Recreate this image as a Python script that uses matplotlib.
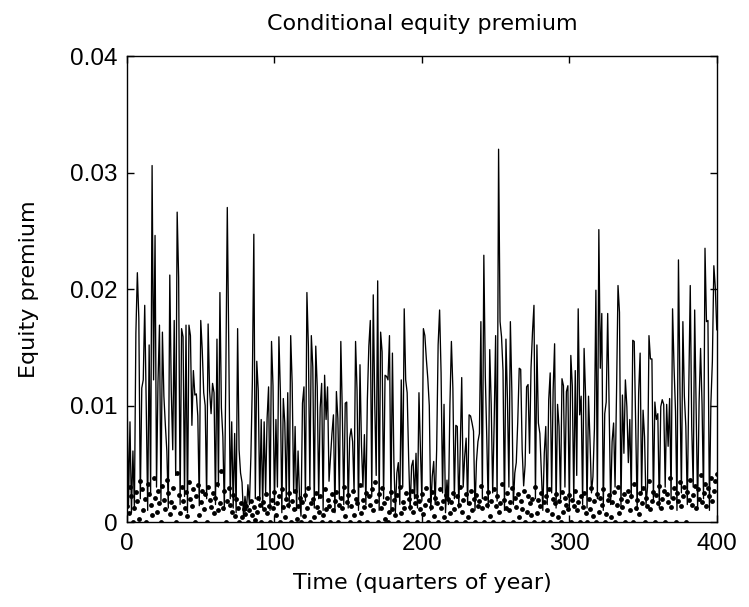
import matplotlib
matplotlib.use("Agg")
import matplotlib.pyplot as plt
import numpy as np

# conditional equity premium, one value per quarter (t = 0..400)
premium = [
    0.0112, 0.0015, 0.0086, 0.0008, 0.0061, 0.0012, 0.0162, 0.0214, 0.0175, 0.0020,
    0.0115, 0.0122, 0.0186, 0.0102, 0.0010, 0.0152, 0.0025, 0.0306, 0.0122, 0.0246,
    0.0030, 0.0120, 0.0169, 0.0018, 0.0163, 0.0108, 0.0083, 0.0061, 0.0012, 0.0212,
    0.0113, 0.0062, 0.0173, 0.0040, 0.0266, 0.0210, 0.0015, 0.0166, 0.0159, 0.0022,
    0.0169, 0.0008, 0.0169, 0.0160, 0.0083, 0.0130, 0.0109, 0.0110, 0.0091, 0.0014,
    0.0173, 0.0148, 0.0111, 0.0100, 0.0020, 0.0170, 0.0113, 0.0093, 0.0119, 0.0111,
    0.0015, 0.0157, 0.0030, 0.0197, 0.0098, 0.0073, 0.0010, 0.0125, 0.0270, 0.0151,
    0.0020, 0.0086, 0.0012, 0.0076, 0.0008, 0.0166, 0.0062, 0.0042, 0.0034, 0.0005,
    0.0022, 0.0010, 0.0032, 0.0015, 0.0056, 0.0120, 0.0247, 0.0020, 0.0138, 0.0113,
    0.0018, 0.0088, 0.0012, 0.0086, 0.0025, 0.0089, 0.0116, 0.0010, 0.0155, 0.0117,
    0.0015, 0.0088, 0.0030, 0.0159, 0.0112, 0.0008, 0.0106, 0.0085, 0.0020, 0.0111,
    0.0012, 0.0160, 0.0119, 0.0025, 0.0082, 0.0010, 0.0061, 0.0021, 0.0005, 0.0102,
    0.0116, 0.0018, 0.0197, 0.0151, 0.0030, 0.0160, 0.0133, 0.0012, 0.0151, 0.0116,
    0.0020, 0.0098, 0.0119, 0.0010, 0.0126, 0.0088, 0.0116, 0.0035, 0.0055, 0.0076,
    0.0092, 0.0008, 0.0112, 0.0089, 0.0020, 0.0155, 0.0095, 0.0015, 0.0102, 0.0103,
    0.0012, 0.0072, 0.0080, 0.0069, 0.0025, 0.0155, 0.0113, 0.0010, 0.0135, 0.0066,
    0.0030, 0.0075, 0.0015, 0.0105, 0.0151, 0.0173, 0.0022, 0.0195, 0.0103, 0.0040,
    0.0207, 0.0010, 0.0163, 0.0146, 0.0020, 0.0126, 0.0125, 0.0122, 0.0160, 0.0012,
    0.0145, 0.0051, 0.0008, 0.0042, 0.0051, 0.0015, 0.0122, 0.0030, 0.0183, 0.0122,
    0.0111, 0.0055, 0.0010, 0.0048, 0.0053, 0.0020, 0.0059, 0.0012, 0.0111, 0.0062,
    0.0018, 0.0166, 0.0160, 0.0140, 0.0123, 0.0100, 0.0010, 0.0039, 0.0052, 0.0015,
    0.0062, 0.0152, 0.0182, 0.0128, 0.0025, 0.0101, 0.0008, 0.0036, 0.0015, 0.0101,
    0.0155, 0.0115, 0.0020, 0.0083, 0.0082, 0.0012, 0.0063, 0.0124, 0.0030, 0.0056,
    0.0072, 0.0015, 0.0092, 0.0091, 0.0085, 0.0078, 0.0010, 0.0052, 0.0069, 0.0076,
    0.0172, 0.0020, 0.0229, 0.0125, 0.0072, 0.0012, 0.0148, 0.0101, 0.0025, 0.0085,
    0.0160, 0.0018, 0.0320, 0.0172, 0.0159, 0.0130, 0.0010, 0.0157, 0.0106, 0.0030,
    0.0172, 0.0112, 0.0015, 0.0042, 0.0051, 0.0086, 0.0132, 0.0131, 0.0062, 0.0031,
    0.0049, 0.0116, 0.0118, 0.0059, 0.0132, 0.0163, 0.0186, 0.0020, 0.0152, 0.0085,
    0.0076, 0.0043, 0.0010, 0.0059, 0.0082, 0.0015, 0.0105, 0.0128, 0.0025, 0.0113,
    0.0153, 0.0012, 0.0101, 0.0082, 0.0020, 0.0123, 0.0117, 0.0030, 0.0112, 0.0117,
    0.0010, 0.0143, 0.0117, 0.0018, 0.0130, 0.0040, 0.0183, 0.0092, 0.0108, 0.0015,
    0.0149, 0.0109, 0.0012, 0.0108, 0.0070, 0.0025, 0.0039, 0.0080, 0.0199, 0.0020,
    0.0251, 0.0132, 0.0179, 0.0010, 0.0093, 0.0103, 0.0179, 0.0096, 0.0015, 0.0069,
    0.0085, 0.0030, 0.0111, 0.0203, 0.0180, 0.0012, 0.0109, 0.0059, 0.0122, 0.0099,
    0.0051, 0.0088, 0.0020, 0.0156, 0.0155, 0.0085, 0.0010, 0.0111, 0.0145, 0.0025,
    0.0096, 0.0073, 0.0015, 0.0030, 0.0160, 0.0140, 0.0140, 0.0018, 0.0103, 0.0088,
    0.0093, 0.0012, 0.0099, 0.0105, 0.0101, 0.0030, 0.0101, 0.0065, 0.0106, 0.0020,
    0.0183, 0.0133, 0.0095, 0.0010, 0.0225, 0.0116, 0.0025, 0.0172, 0.0108, 0.0082,
    0.0015, 0.0115, 0.0203, 0.0082, 0.0030, 0.0182, 0.0099, 0.0012, 0.0103, 0.0149,
    0.0101, 0.0020, 0.0235, 0.0172, 0.0173, 0.0010, 0.0102, 0.0138, 0.0220, 0.0201,
    0.0165,
]

# dotted series near the bottom, in units of 1e-4
dots_e4 = [
    14, 8, 30, 22, 0, 12, 26, 18, 3, 35, 28, 10, 20, 0, 33, 24, 15, 6, 38, 21,
    9, 27, 16, 0, 31, 19, 11, 36, 25, 7, 17, 29, 13, 0, 42, 23, 8, 30, 18, 12,
    26, 5, 34, 20, 14, 28, 0, 22, 32, 6, 17, 27, 11, 24, 0, 30, 19, 13, 25, 8,
    21, 33, 10, 16, 44, 12, 27, 0, 18, 29, 15, 9, 23, 5, 20, 12, 0, 16, 4, 11,
    7, 14, 0, 10, 18, 6, 13, 2, 9, 21, 15, 0, 17, 11, 24, 8, 14, 0, 19, 12,
    26, 6, 16, 22, 0, 28, 13, 4, 20, 15, 25, 0, 18, 11, 27, 3, 14, 21, 0, 17,
    5, 23, 12, 29, 0, 16, 20, 4, 25, 13, 9, 22, 0, 6, 28, 11, 19, 14, 0, 24,
    10, 18, 26, 0, 15, 21, 12, 30, 5, 17, 23, 0, 14, 27, 6, 20, 16, 0, 32, 8,
    19, 13, 25, 0, 22, 15, 28, 10, 34, 18, 0, 24, 12, 29, 16, 3, 21, 0, 9, 26,
    11, 19, 6, 23, 0, 30, 8, 17, 12, 25, 0, 20, 13, 27, 9, 16, 22, 0, 18, 11,
    24, 7, 15, 29, 0, 19, 13, 26, 5, 21, 16, 0, 28, 12, 18, 4, 23, 0, 20, 8,
    17, 25, 11, 0, 22, 15, 30, 9, 19, 0, 24, 4, 16, 27, 10, 20, 0, 23, 14, 18,
    31, 12, 0, 21, 15, 26, 5, 18, 0, 28, 14, 22, 9, 16, 33, 0, 19, 12, 25, 10,
    17, 29, 0, 21, 13, 24, 4, 18, 11, 27, 0, 9, 22, 16, 6, 20, 0, 30, 8, 19,
    14, 25, 0, 17, 22, 10, 28, 0, 7, 20, 16, 24, 4, 18, 0, 26, 9, 21, 15, 11,
    23, 0, 19, 14, 27, 10, 17, 0, 22, 13, 25, 8, 0, 20, 11, 29, 5, 18, 0, 24,
    9, 21, 15, 28, 0, 7, 19, 23, 4, 17, 26, 0, 15, 30, 8, 20, 13, 24, 0, 18,
    27, 10, 22, 0, 33, 12, 19, 7, 25, 16, 29, 0, 21, 14, 35, 11, 18, 26, 0, 23,
    16, 31, 12, 20, 27, 0, 24, 17, 38, 13, 21, 29, 0, 25, 18, 34, 14, 22, 30, 0,
    26, 19, 36, 15, 23, 31, 12, 28, 20, 40, 17, 25, 33, 14, 29, 22, 38, 18, 27, 35,
    41,
]

TITLE = "Conditional equity premium"
XLABEL = "Time (quarters of year)"
YLABEL = "Equity premium"

plt.rcParams["font.family"] = ["Liberation Sans", "DejaVu Sans"]
LABEL_FONT = ["DejaVu Sans"]

t = np.arange(len(premium))
dots = np.array(dots_e4) * 1e-4

fig = plt.figure(figsize=(7.49, 6.07), dpi=100)
ax = fig.add_axes([0.1696, 0.140, 0.7874, 0.7677])

ax.plot(t, premium, "-", color="black", lw=0.95)
ax.plot(np.arange(len(dots)), dots, ".", color="black", ms=7, mew=0)

ax.set_xlim(0, 400)
ax.set_ylim(0, 0.04)
ax.set_xticks([0, 100, 200, 300, 400])
ax.set_yticks([0, 0.01, 0.02, 0.03, 0.04])
ax.set_yticklabels(["0", "0.01", "0.02", "0.03", "0.04"])
ax.tick_params(direction="in", top=True, right=True, length=5, width=1,
               labelsize=17.5)
ax.tick_params(axis="x", pad=8)
ax.tick_params(axis="y", pad=7)
for s in ax.spines.values():
    s.set_linewidth(1)

ax.set_title(TITLE, fontsize=16, pad=19, family=LABEL_FONT)
ax.set_xlabel(XLABEL, fontsize=16, labelpad=13, family=LABEL_FONT)
ax.set_ylabel(YLABEL, fontsize=16, labelpad=22, family=LABEL_FONT)

fig.savefig("out.png", dpi=100)
